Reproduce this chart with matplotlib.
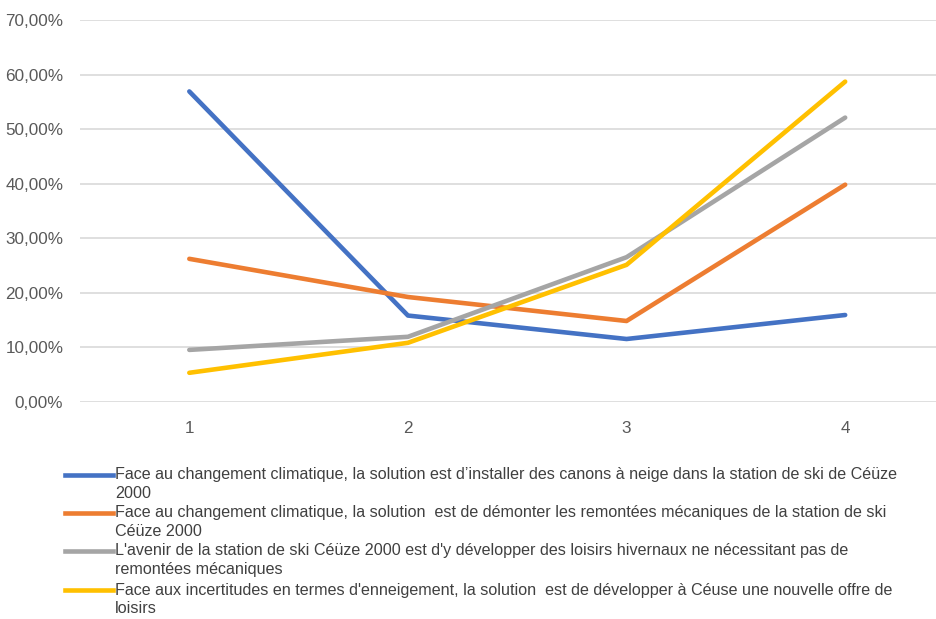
import matplotlib.pyplot as plt
from matplotlib.lines import Line2D
from matplotlib.ticker import FuncFormatter, MultipleLocator

plt.rcParams['font.family'] = ['Liberation Sans', 'DejaVu Sans']

# Données
categories = [1, 2, 3, 4]
canons = [0.569, 0.158, 0.115, 0.159]
demonter = [0.262, 0.192, 0.148, 0.398]
loisirs_hiver = [0.095, 0.119, 0.265, 0.521]
nouvelle_offre = [0.053, 0.108, 0.251, 0.587]

series = [canons, demonter, loisirs_hiver, nouvelle_offre]
couleurs = ['#4472C4', '#ED7D31', '#A5A5A5', '#FFC000']
libelles = [
    "Face au changement climatique, la solution est d\u2019installer des canons à neige dans la station de ski de Céüze\n2000",
    "Face au changement climatique, la solution  est de démonter les remontées mécaniques de la station de ski\nCéüze 2000",
    "L'avenir de la station de ski Céüze 2000 est d'y développer des loisirs hivernaux ne nécessitant pas de\nremontées mécaniques",
    "Face aux incertitudes en termes d'enneigement, la solution  est de développer à Céuse une nouvelle offre de\nloisirs",
]

W, H = 937, 619
fig = plt.figure(figsize=(W / 100, H / 100), dpi=100)
ax = fig.add_axes([80 / W, 1 - 401.7 / H, 1 - 80 / W, (401.7 - 20) / H])

for valeurs, c in zip(series, couleurs):
    ax.plot(categories, valeurs, color=c, linewidth=3.3, solid_capstyle='round', zorder=3)

ax.set_xlim(0.5, 4.42)
ax.set_ylim(0, 0.70)
ax.yaxis.set_major_locator(MultipleLocator(0.10))
ax.yaxis.set_major_formatter(FuncFormatter(lambda v, p: f"{v * 100:.2f}%".replace('.', ',')))
ax.set_xticks(categories)
ax.grid(axis='y', color='#D9D9D9', linewidth=1.2, zorder=0)
for s in ax.spines.values():
    s.set_visible(False)
ax.tick_params(axis='both', length=0, colors='#595959', labelsize=12.3)
ax.tick_params(axis='y', pad=12)
ax.tick_params(axis='x', pad=14)

# Légende en bas
y_lignes = [475, 513, 551, 590]
for y, c, lib in zip(y_lignes, couleurs, libelles):
    yf = 1 - y / H
    fig.add_artist(Line2D([65 / W, 113 / W], [yf, yf], color=c, linewidth=3.3))
    for k, ligne in enumerate(lib.split('\n')):
        fig.text(115 / W, 1 - (y + 18.7 * k) / H, ligne, va='center', ha='left',
                 fontsize=11.6, color='#404040')

fig.savefig('out.png', dpi=100)
